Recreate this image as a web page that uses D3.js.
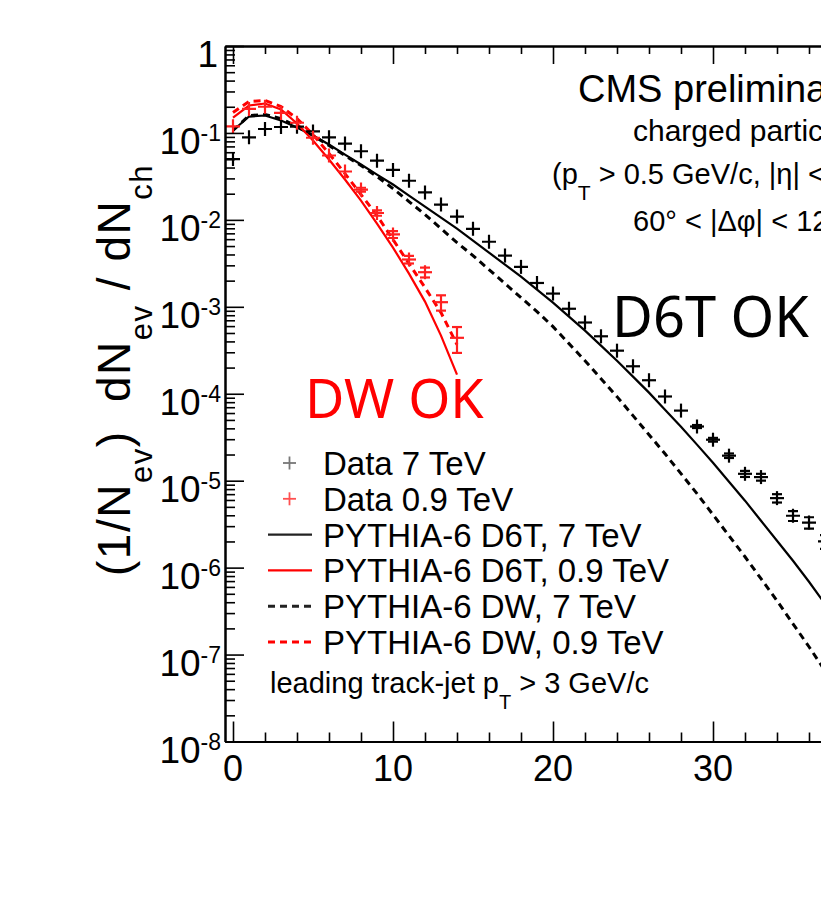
<!DOCTYPE html>
<html>
<head>
<meta charset="utf-8">
<script src="https://cdn.jsdelivr.net/npm/d3@7"></script>
<style>
  body { margin: 0; background: #fff; }
  svg { display: block; font-family: "Liberation Sans", Arial, Helvetica, sans-serif; }
</style>
</head>
<body>
<div id="chart"></div>
<script>
//multiplicity bins (N_ch)
var nch7 = [0,1,2,3,4,5,6,7,8,9,10,11,12,13,14,15,16,17,18,19,20,21,22,23,24,25,26,27,28,29,30,31,32,33,34,35,36,37];
var nch09 = [0,1,2,3,4,5,6,7,8,9,10,11,12,13,14];

//data 7 TeV
var data7 = [0.050,0.089,0.111,0.117,0.118,0.104,0.089,0.0755,0.0616,0.048,0.0375,0.0282,0.0207,0.0150,0.0109,0.0079,0.0056,
  0.00388,0.00288,0.00188,0.00142,0.00095,6.6e-4,4.58e-4,3.13e-4,2.07e-4,1.43e-4,9.3e-5,6.4e-5,4.2e-5,2.96e-5,1.94e-5,
  1.2e-5,1.1e-5,6.3e-6,3.95e-6,3.3e-6,2.0e-6];
var data7RelErr = [0.005,0.005,0.005,0.005,0.005,0.005,0.005,0.005,0.005,0.005,0.005,0.005,0.005,0.005,0.005,0.005,0.005,
  0.005,0.005,0.005,0.005,0.01,0.01,0.01,0.01,0.01,0.02,0.025,0.03,0.04,0.05,0.06,0.08,0.09,0.11,0.13,0.15,0.18];

//data 0.9 TeV
var data09 = [0.119,0.189,0.200,0.170,0.131,0.088,0.055,0.036,0.0223,0.0120,0.0068,0.0035,0.0025,0.00113,4.4e-4];
var data09RelErr = [0.01,0.01,0.01,0.01,0.01,0.01,0.02,0.03,0.05,0.07,0.09,0.10,0.13,0.20,0.33];

//PYTHIA-6 curves
var d6t7 = [0.1066,0.1544,0.1586,0.1389,0.1154,0.0933,0.0735,0.0564,0.0433,0.0332,0.0255,0.01904,0.01422,0.01063,0.00794,
  0.00578,0.00420,0.00306,0.002225,0.001577,0.001118,7.71e-4,5.32e-4,3.58e-4,2.40e-4,1.573e-4,1.03e-4,6.56e-5,4.18e-5,
  2.60e-5,1.61e-5,9.74e-6,5.89e-6,3.46e-6,2.04e-6,1.20e-6,6.88e-7,3.84e-7];
var dw7 = [0.1066,0.1586,0.1628,0.1464,0.1185,0.0933,0.0716,0.0550,0.0422,0.0315,0.0229,0.01624,0.01151,0.00794,0.00548,
  0.00388,0.00268,0.00185,0.001276,8.81e-4,5.92e-4,3.77e-4,2.40e-4,1.492e-4,9.26e-5,5.60e-5,3.38e-5,2.04e-5,1.204e-5,
  7.09e-6,4.06e-6,2.33e-6,1.334e-6,7.45e-7,4.16e-7,2.26e-7,1.23e-7,6.51e-8];
var d6t09 = [0.1504,0.2067,0.2180,0.1859,0.1283,0.0818,0.0494,0.0291,0.01668,0.00907,0.00480,0.00241,0.001148,4.66e-4,1.659e-4];
var dw09 = [0.1717,0.2298,0.2360,0.2012,0.1464,0.0958,0.0579,0.0341,0.01955,0.01121,0.00593,0.00314,0.001663,8.58e-4,3.67e-4];

//tick labels
var xTickLabels = [0, 10, 20, 30];
var yTickExps = [0, -1, -2, -3, -4, -5, -6, -7, -8];

var legendItems = ["Data 7 TeV", "Data 0.9 TeV", "PYTHIA-6 D6T, 7 TeV", "PYTHIA-6 D6T, 0.9 TeV",
  "PYTHIA-6 DW, 7 TeV", "PYTHIA-6 DW, 0.9 TeV"];

var width = 821, height = 910;
var plotLeft = 225, plotTop = 46, plotBottom = 741.5;
var red = "#ff0000";

var x = d3.scaleLinear().domain([-0.5, 40]).range([plotLeft, plotLeft + 40.5 * 16]);
var y = d3.scaleLog().domain([1e-8, 1]).range([plotBottom, plotTop]);

var svg = d3.select("#chart").append("svg")
  .attr("width", width)
  .attr("height", height);

svg.append("defs").append("clipPath").attr("id", "clip")
  .append("rect")
  .attr("x", plotLeft).attr("y", plotTop)
  .attr("width", width - plotLeft).attr("height", plotBottom - plotTop);

var plot = svg.append("g").attr("clip-path", "url(#clip)");

//lines
var line = d3.line()
  .x(function(d) { return x(d[0]); })
  .y(function(d) { return y(d[1]); });

function drawCurve(xs, ys, color, dash, w) {
  plot.append("path")
    .datum(d3.zip(xs, ys))
    .attr("fill", "none")
    .attr("stroke", color)
    .attr("stroke-width", w)
    .attr("stroke-dasharray", dash)
    .attr("d", line);
}
drawCurve(nch7, d6t7, "#000", null, 2.2);
drawCurve(nch7, dw7, "#000", "7,5", 3);
drawCurve(nch09, d6t09, red, null, 2.2);
drawCurve(nch09, dw09, red, "7,5", 3);

//data points as crosses with error bars
function drawPoints(xs, vals, rel, color) {
  var pts = plot.append("g")
    .attr("stroke", color)
    .attr("stroke-width", 2.2)
    .selectAll("g")
    .data(d3.zip(xs, vals, rel))
    .enter().append("g");
  var half = 7, cap = 5;
  pts.append("line")
    .attr("x1", function(d) { return x(d[0]) - half; })
    .attr("x2", function(d) { return x(d[0]) + half; })
    .attr("y1", function(d) { return y(d[1]); })
    .attr("y2", function(d) { return y(d[1]); });
  pts.append("line")
    .attr("x1", function(d) { return x(d[0]); })
    .attr("x2", function(d) { return x(d[0]); })
    .attr("y1", function(d) { return Math.min(y(d[1]) - half, y(d[1] * (1 + d[2]))); })
    .attr("y2", function(d) { return Math.max(y(d[1]) + half, y(d[1] * (1 - d[2]))); });
  pts.filter(function(d) { return y(d[1] * (1 - d[2])) - y(d[1]) > 1.5; })
    .selectAll(".cap")
    .data(function(d) { return [[d[0], d[1] * (1 + d[2])], [d[0], d[1] * (1 - d[2])]]; })
    .enter().append("line")
    .attr("class", "cap")
    .attr("x1", function(d) { return x(d[0]) - cap; })
    .attr("x2", function(d) { return x(d[0]) + cap; })
    .attr("y1", function(d) { return y(d[1]); })
    .attr("y2", function(d) { return y(d[1]); });
}
drawPoints(nch7, data7, data7RelErr, "#000");
drawPoints(nch09, data09, data09RelErr, "#ff2020");

//axes
function styleAxis(g) {
  g.select(".domain").attr("stroke", "#000").attr("stroke-width", 2);
  g.selectAll(".tick line").attr("stroke", "#000").attr("stroke-width", 1.6);
  g.selectAll(".tick text").remove();
}
var yMajor = yTickExps.map(function(e) { return Math.pow(10, e); });
var yMinor = y.ticks().filter(function(v) {
  return Math.abs(Math.log10(v) - Math.round(Math.log10(v))) > 1e-6;
});
var xMinor = x.ticks(20).filter(function(v) { return xTickLabels.indexOf(v) < 0; });

svg.append("g").attr("transform", "translate(" + plotLeft + ",0)")
  .call(d3.axisLeft(y).tickValues(yMajor).tickSizeInner(-19).tickSizeOuter(0).tickFormat(""))
  .call(styleAxis);
svg.append("g").attr("transform", "translate(" + plotLeft + ",0)")
  .call(d3.axisLeft(y).tickValues(yMinor).tickSizeInner(-10).tickSizeOuter(0).tickFormat(""))
  .call(styleAxis);
svg.append("g").attr("transform", "translate(0," + plotBottom + ")")
  .call(d3.axisBottom(x).tickValues(xTickLabels).tickSizeInner(-20).tickSizeOuter(0).tickFormat(""))
  .call(styleAxis);
svg.append("g").attr("transform", "translate(0," + plotBottom + ")")
  .call(d3.axisBottom(x).tickValues(xMinor).tickSizeInner(-9).tickSizeOuter(0).tickFormat(""))
  .call(styleAxis);
svg.append("g").attr("transform", "translate(0," + plotTop + ")")
  .call(d3.axisTop(x).tickValues(xTickLabels).tickSizeInner(-18).tickSizeOuter(0).tickFormat(""))
  .call(styleAxis);
svg.append("g").attr("transform", "translate(0," + plotTop + ")")
  .call(d3.axisTop(x).tickValues(xMinor).tickSizeInner(-8).tickSizeOuter(0).tickFormat(""))
  .call(styleAxis);

//tick labels
xTickLabels.forEach(function(v) {
  svg.append("text")
    .attr("x", x(v))
    .attr("y", 781)
    .attr("text-anchor", "middle")
    .attr("font-size", 36)
    .text(v);
});
yTickExps.forEach(function(e) {
  var t = svg.append("text")
    .attr("x", e === 0 ? 218 : 221)
    .attr("y", y(Math.pow(10, e)) + 21)
    .attr("text-anchor", "end")
    .attr("font-size", 37);
  if (e === 0) {
    t.text("1");
  } else {
    t.append("tspan").text("10");
    t.append("tspan").attr("dy", -13).attr("font-size", 23).text(e);
  }
});

//y axis title
var yt = svg.append("text")
  .attr("transform", "translate(130,370) rotate(-90)")
  .attr("text-anchor", "middle")
  .attr("letter-spacing", 1.5)
  .attr("font-size", 46);
yt.append("tspan").text("(1/N");
yt.append("tspan").attr("dy", 22).attr("font-size", 31).text("ev");
yt.append("tspan").attr("dy", -22).text(")\u00a0\u00a0dN");
yt.append("tspan").attr("dy", 22).attr("font-size", 31).text("ev");
yt.append("tspan").attr("dy", -22).text(" / dN");
yt.append("tspan").attr("dy", 22).attr("font-size", 31).text("ch");

//top right labels
svg.append("text").attr("x", 578).attr("y", 102).attr("font-size", 38).text("CMS preliminary");
svg.append("text").attr("x", 633).attr("y", 141).attr("font-size", 30).text("charged particles");
var pt = svg.append("text").attr("x", 552).attr("y", 184).attr("font-size", 29);
pt.append("tspan").text("(p");
pt.append("tspan").attr("dy", 16).attr("font-size", 21).text("T");
pt.append("tspan").attr("dy", -16).text(" > 0.5 GeV/c, |\u03b7| < 2.0)");
svg.append("text").attr("x", 633).attr("y", 231).attr("font-size", 29)
  .text("60\u00b0 < |\u0394\u03c6| < 120\u00b0");

//annotations
svg.append("text").attr("x", 612).attr("y", 337)
  .attr("font-family", "'Comic Sans MS', 'Noto Sans', sans-serif")
  .attr("font-size", 56).attr("fill", "#000").text("D6T OK");
svg.append("text").attr("x", 305).attr("y", 418)
  .attr("font-family", "'Comic Sans MS', 'Noto Sans', sans-serif")
  .attr("font-size", 54).attr("fill", red).text("DW OK");

//legend
var legendRowY = 463, legendRowH = 35.8;
var legend = svg.selectAll(".legend")
    .data(legendItems)
  .enter().append("g")
    .attr("class", "legend")
    .attr("transform", function(d, i) {
      return "translate(0," + (legendRowY + i * legendRowH) + ")";
    });
legend.each(function(d, i) {
  var g = d3.select(this);
  if (i < 2) {
    var c = i === 0 ? "#777" : "#ff5050";
    g.append("line").attr("x1", 283).attr("x2", 296).attr("y1", 0).attr("y2", 0)
      .attr("stroke", c).attr("stroke-width", 1.8);
    g.append("line").attr("x1", 289.5).attr("x2", 289.5).attr("y1", -6.5).attr("y2", 6.5)
      .attr("stroke", c).attr("stroke-width", 1.8);
  } else {
    g.append("line").attr("x1", 268).attr("x2", 312).attr("y1", 0).attr("y2", 0)
      .attr("stroke", (i === 2 || i === 4) ? "#222" : red)
      .attr("stroke-width", i < 4 ? 2.2 : 3)
      .attr("stroke-dasharray", i < 4 ? null : "7,5");
  }
});
legend.append("text")
  .attr("x", 323)
  .attr("y", 12)
  .attr("font-size", 33)
  .text(function(d) { return d; });

var lt = svg.append("text").attr("x", 270).attr("y", 693).attr("font-size", 29);
lt.append("tspan").text("leading track-jet p");
lt.append("tspan").attr("dy", 16).attr("font-size", 20).text("T");
lt.append("tspan").attr("dy", -16).text(" > 3 GeV/c");
</script>
</body>
</html>
